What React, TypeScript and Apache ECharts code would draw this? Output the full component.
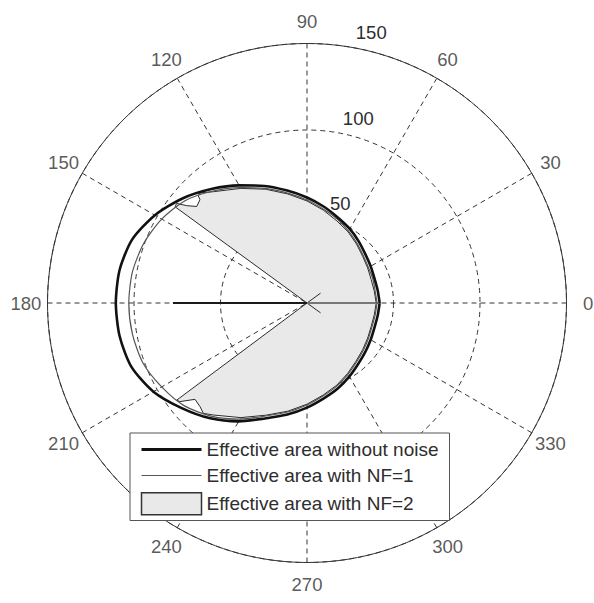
import React, { useEffect, useRef } from 'react';
import * as echarts from 'echarts';

// ---- data (radius in plot units, angle in degrees) ----
const CURVE_ANGLES = [0, 10, 20, 30, 40, 50, 60, 70, 80, 90, 100, 110, 120, 130, 140, 150, 160, 170, 180,
  190, 200, 210, 220, 230, 240, 250, 260, 270, 280, 290, 300, 310, 320, 330, 340, 350, 360];

const R_NO_NOISE = [42, 41.5, 41.5, 42.5, 44, 46.5, 49.5, 52.5, 56.5, 61, 66, 72, 78.5, 86, 94, 101.5, 107.5, 110, 110.5,
  110, 108, 102.5, 94.5, 87, 79, 71, 65.5, 60.5, 56, 52.5, 49, 46, 44, 42.5, 41.5, 41.5, 42];

const R_NF1 = [40.5, 40, 40.5, 41, 42.5, 45, 48, 51.5, 55, 59.5, 64.5, 70.5, 77, 84.5, 92, 97, 100.5, 102.5, 103,
  102.5, 101, 97, 92.5, 85.5, 77.5, 69.5, 64, 59, 54.5, 51, 47.5, 44.5, 42.5, 41, 40, 40, 40.5];

const NF2_ANGLES = [216.7, 216.7, 217.8, 220.7, 224.1, 226.8, 230, 240, 250, 260, 270, 280, 290, 300, 310, 320, 330, 340, 350, 360,
  10, 20, 30, 40, 50, 60, 70, 80, 90, 100, 110, 120, 130, 134.2, 135.4, 136, 138.8, 141, 142.6, 143.9, 143.9];
const NF2_R = [0, 93.9, 93, 85.4, 86.1, 87.5, 84.5, 76.5, 69, 63.5, 58.5, 54, 50.5, 47, 44, 42, 40.5, 39.5, 39.5, 40,
  39.5, 39.5, 40.5, 42, 44.5, 47.5, 50.5, 54.5, 59, 64, 70, 76.5, 84, 88.7, 88.3, 86, 84.7, 89.4, 94.8, 94.4, 0];

const CENTER_X_ANGLES = [324, 0, 36];
const CENTER_X_R = [9.7, 0, 9.7];

const LEFT_SEG_ANGLES = [180, 180];
const LEFT_SEG_R = [0, 77.5];

const RIGHT_SEG_ANGLES = [0, 0];
const RIGHT_SEG_R = [0, 41];

const ANGLE_LABELS = [0, 30, 60, 90, 120, 150, 180, 210, 240, 270, 300, 330];
const ANGLE_LABEL_R = 162.5;

const LEGEND_NAMES = ['Effective area without noise', 'Effective area with NF=1', 'Effective area with NF=2'];

const pairs = (rs: number[], as: number[]) => rs.map((r, i) => [r, as[i]]);

const FONT = '"Liberation Sans", Arial, Helvetica, sans-serif';
const GRID = '#353535';

export default function App() {
  const ref = useRef<HTMLDivElement>(null);

  useEffect(() => {
    if (!ref.current) return;
    const chart = echarts.init(ref.current, null, { renderer: 'svg' });
    const option: any = {
      animation: false,
      backgroundColor: '#ffffff',
      polar: [
        { center: [307, 303], radius: 259.5 },
        { center: [307, 303], radius: 259.5 },
      ],
      angleAxis: [
        {
          polarIndex: 0, type: 'value', min: 0, max: 360, interval: 30, startAngle: 0, clockwise: false,
          axisLine: { show: true, lineStyle: { color: GRID, width: 1 } },
          axisTick: { show: false },
          axisLabel: { show: false },
          splitLine: { show: true, lineStyle: { color: GRID, width: 1, type: [5, 4] } },
        },
        { polarIndex: 1, type: 'value', min: 0, max: 360, startAngle: 81.4, clockwise: false, show: false },
      ],
      radiusAxis: [
        {
          polarIndex: 0, type: 'value', min: 0, max: 150, interval: 50,
          axisLine: { show: false }, axisTick: { show: false }, axisLabel: { show: false },
          splitLine: { show: true, lineStyle: { color: GRID, width: 1, type: [5, 4] } },
        },
        {
          polarIndex: 1, type: 'value', min: 0, max: 150, interval: 50,
          axisLine: { show: false }, axisTick: { show: false }, splitLine: { show: false },
          axisLabel: {
            show: true, margin: 0, align: 'left', verticalAlign: 'bottom', padding: [0, 0, 4, 10],
            fontSize: 18.5, color: '#2e2e2e', fontFamily: FONT,
            formatter: (v: number) => (v === 0 ? '' : String(v)),
          },
        },
      ],
      legend: {
        orient: 'vertical', left: 130, top: 433,
        padding: [7, 11, 5, 10], itemWidth: 60, itemHeight: 22, itemGap: 7,
        backgroundColor: '#ffffff', borderColor: '#555', borderWidth: 1,
        selectedMode: false,
        textStyle: { fontSize: 19, color: '#2e2e2e', fontFamily: FONT },
        data: [
          { name: LEGEND_NAMES[0], lineStyle: { width: 3, color: '#111' }, itemStyle: { opacity: 0 } },
          { name: LEGEND_NAMES[1], lineStyle: { width: 1.2, color: '#555' }, itemStyle: { opacity: 0 } },
          { name: LEGEND_NAMES[2], icon: 'rect', itemStyle: { color: '#e9e9e9', borderColor: '#333', borderWidth: 1.5 } },
        ],
      },
      series: [
        {
          name: LEGEND_NAMES[2], type: 'line', coordinateSystem: 'polar', polarIndex: 0, symbol: 'none',
          data: pairs(NF2_R, NF2_ANGLES),
          lineStyle: { color: '#2b2b2b', width: 1 },
          areaStyle: { color: '#e9e9e9', opacity: 1 },
          itemStyle: { color: '#e9e9e9' },
          z: 2,
        },
        {
          name: 'centerX', type: 'line', coordinateSystem: 'polar', polarIndex: 0, symbol: 'none',
          data: pairs(CENTER_X_R, CENTER_X_ANGLES),
          lineStyle: { color: '#2b2b2b', width: 1 }, z: 3,
        },
        {
          name: 'rightSeg', type: 'line', coordinateSystem: 'polar', polarIndex: 0, symbol: 'none',
          data: pairs(RIGHT_SEG_R, RIGHT_SEG_ANGLES),
          lineStyle: { color: '#777', width: 2 }, z: 3,
        },
        {
          name: LEGEND_NAMES[1], type: 'line', coordinateSystem: 'polar', polarIndex: 0, symbol: 'none',
          smooth: 0.25,
          data: pairs(R_NF1, CURVE_ANGLES),
          lineStyle: { color: '#555', width: 1.2 }, itemStyle: { color: '#555' }, z: 4,
        },
        {
          name: 'leftSeg', type: 'line', coordinateSystem: 'polar', polarIndex: 0, symbol: 'none',
          data: pairs(LEFT_SEG_R, LEFT_SEG_ANGLES),
          lineStyle: { color: '#1a1a1a', width: 2 }, z: 4,
        },
        {
          name: LEGEND_NAMES[0], type: 'line', coordinateSystem: 'polar', polarIndex: 0, symbol: 'none',
          smooth: 0.25,
          data: pairs(R_NO_NOISE, CURVE_ANGLES),
          lineStyle: { color: '#111', width: 2.6 }, itemStyle: { color: '#111' }, z: 5,
        },
        {
          name: 'angleLabels', type: 'scatter', coordinateSystem: 'polar', polarIndex: 0,
          symbolSize: 0, clip: false, silent: true, z: 6,
          data: ANGLE_LABELS.map((a) => [ANGLE_LABEL_R, a]),
          label: {
            show: true, position: 'inside', fontSize: 18.5, color: '#2e2e2e', fontFamily: FONT,
            formatter: (p: any) => String(p.value[1]),
          },
        },
      ],
    };
    chart.setOption(option);
    return () => chart.dispose();
  }, []);

  return (
    <div
      ref={ref}
      style={{ position: 'absolute', left: 0, top: 0, width: 594, height: 603, background: '#fff' }}
    />
  );
}
